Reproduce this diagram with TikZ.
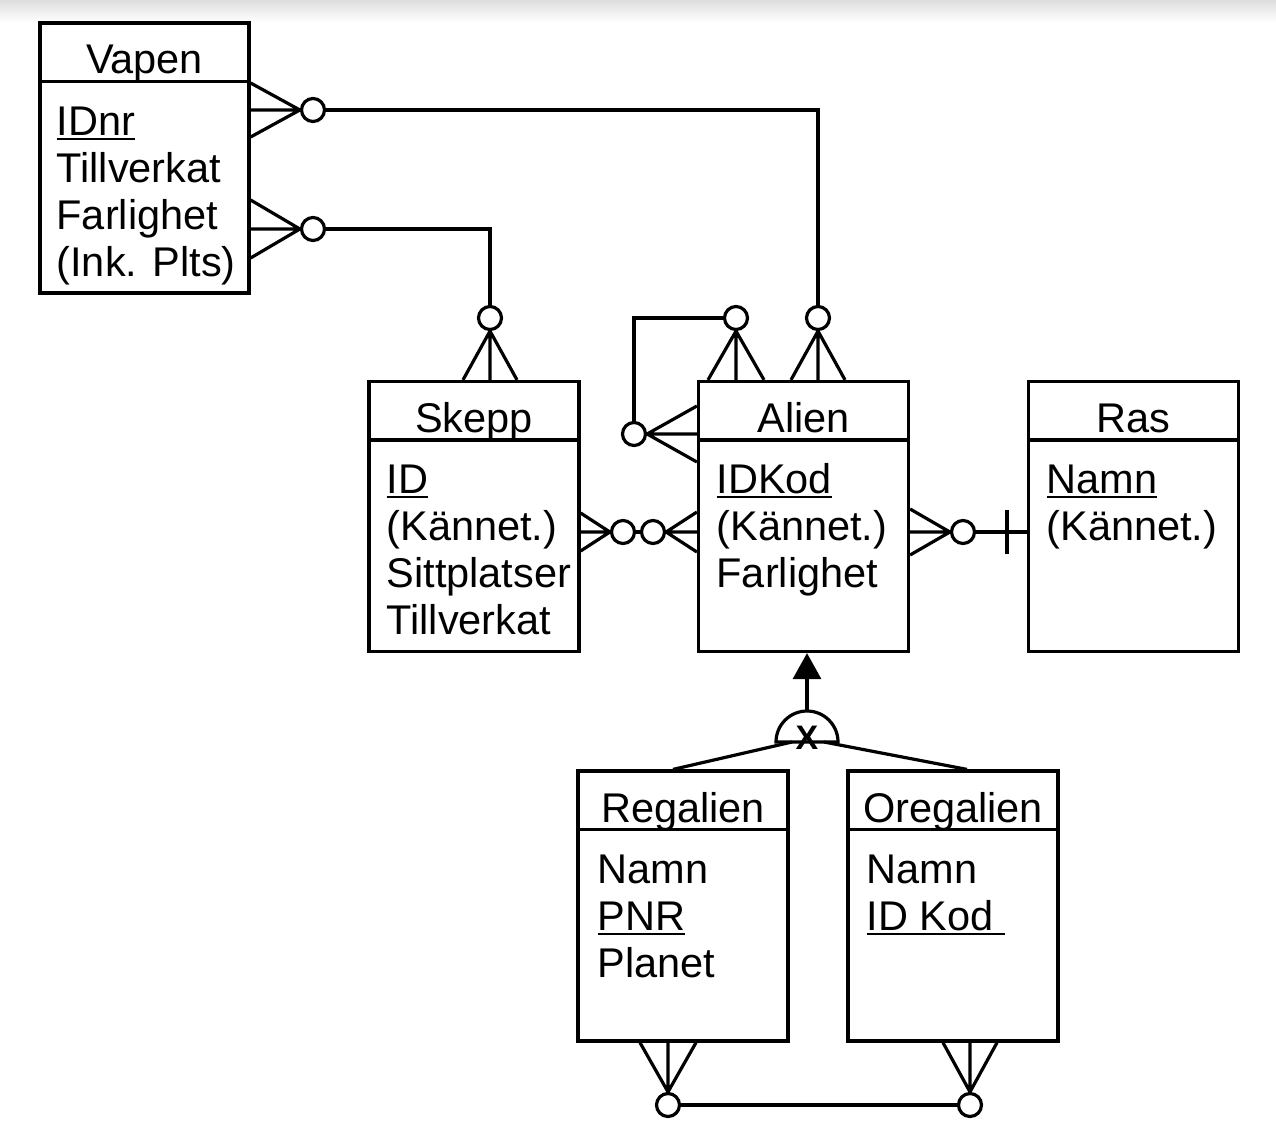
\documentclass[tikz,border=0pt]{standalone}
\usepackage{fontspec}
\setmainfont{Liberation Sans}
\usetikzlibrary{arrows.meta,calc}
\newcommand\ulx[1]{\setbox0\hbox{#1}\rlap{\rule[-5pt]{\wd0}{2.4pt}}\box0}
\newcommand\crowh[3]{\draw ($#1+(0,-#3)$) -- (#2) -- ($#1+(0,#3)$) #1 -- (#2);}
\newcommand\crowv[3]{\draw ($#1+(-#3,0)$) -- (#2) -- ($#1+(#3,0)$) #1 -- (#2);}
\begin{document}
\begin{tikzpicture}[x=1pt,y=-1pt,line width=3.2pt,
  ent/.style={draw,rectangle,minimum width=210pt,minimum height=270pt,inner sep=0},
  ttl/.style={anchor=base,inner sep=0,font=\fontsize{41.5}{47}\selectfont},
  att/.style={anchor=base west,inner sep=0,font=\fontsize{41.5}{47}\selectfont},
  oc/.style={draw,circle,fill=white,minimum size=23pt,inner sep=0}]
\useasboundingbox (0,0) rectangle (1276,1124);
\shade[top color=black!13,bottom color=white] (0,0) rectangle (1276,22);

% entities
\node[ent,minimum width=209pt] (vapen) at (144.5,158) {};
\node[ent] (skepp) at (474,516.5) {};
\node[ent] (alien) at (803.5,516.5) {};
\node[ent] (ras) at (1133.5,516.5) {};
\node[ent] (regalien) at (683,906) {};
\node[ent] (oregalien) at (953,906) {};
\foreach \b in {vapen,skepp,alien,ras,regalien,oregalien}
  \draw ($(\b.north west)+(0,60)$) -- ($(\b.north east)+(0,60)$);

% texts
\node[ttl] (tv) at (144.5,74) {Vapen};
\node[att] (v1) at (55,135) {\ulx{IDnr}};
\node[att] (v2) at (55,182) {Tillverkat};
\node[att] (v3) at (55,229) {Farlighet};
\node[att] (v4) at (55,276) {(Ink. Plts)};

\node[ttl] (ts) at (474,432) {Skepp};
\node[att] (s1) at (385,493) {\ulx{ID}};
\node[att] (s2) at (385,540) {(Kännet.)};
\node[att] (s3) at (385,587) {Sittplatser};
\node[att] (s4) at (385,634) {Tillverkat};

\node[ttl] (ta) at (803.5,432) {Alien};
\node[att] (a1) at (715,493) {\ulx{IDKod}};
\node[att] (a2) at (715,540) {(Kännet.)};
\node[att] (a3) at (715,587) {Farlighet};

\node[ttl] (tr) at (1133.5,432) {Ras};
\node[att] (r1) at (1045,493) {\ulx{Namn}};
\node[att] (r2) at (1045,540) {(Kännet.)};

\node[ttl] (tg) at (683,822) {Regalien};
\node[att] (g1) at (596,883) {Namn};
\node[att] (g2) at (596,930) {\ulx{PNR}};
\node[att] (g3) at (596,977) {Planet};

\node[ttl] (to) at (953,822) {Oregalien};
\node[att] (o1) at (865,883) {Namn};
\node[att] (o2) at (865,930) {\ulx{ID Kod\ }};

% circles
\node[oc] (c1) at (313,110) {};
\node[oc] (c2) at (818,318) {};
\node[oc] (c3) at (313,229) {};
\node[oc] (c4) at (490,318) {};
\node[oc] (c5) at (736,318) {};
\node[oc] (c6) at (634,434) {};
\node[oc] (c7) at (623,532) {};
\node[oc] (c8) at (653,532) {};
\node[oc] (c9) at (963,532) {};
\node[oc] (c10) at (668,1105) {};
\node[oc] (c11) at (970,1105) {};

% Vapen - Alien
\crowh{(vapen.east|-c1)}{c1.west}{27}
\draw (c1.east) -| (c2.north);
\crowv{(alien.north-|c2)}{c2.south}{27}
% Vapen - Skepp
\crowh{(vapen.east|-c3)}{c3.west}{29}
\draw (c3.east) -| (c4.north);
\crowv{(skepp.north-|c4)}{c4.south}{27}
% Alien self
\crowv{(alien.north-|c5)}{c5.south}{28}
\draw (c5.west) -| (c6.north);
\crowh{(alien.west|-c6)}{c6.east}{28}
% Skepp - Alien
\crowh{(skepp.east|-c7)}{c7.west}{19}
\draw (c7.east) -- (c8.west);
\crowh{(alien.west|-c8)}{c8.east}{20}
% Alien - Ras
\crowh{(alien.east|-c9)}{c9.west}{23}
\draw (c9.east) -- (ras.west|-c9);
\draw ($(ras.west|-c9)+(-20,-22)$) -- ($(ras.west|-c9)+(-20,22)$);
% Regalien - Oregalien
\crowv{(regalien.south-|c10)}{c10.north}{28}
\draw (c10.east) -- (c11.west);
\crowv{(oregalien.south-|c11)}{c11.north}{27}

% specialisation
\coordinate (isatop) at (807,711);
\draw (776,742) .. controls (776,724.9) and (789.9,711) .. (isatop)
      .. controls (824.1,711) and (838,724.9) .. (838,742) -- cycle;
\draw[-{Triangle[length=26pt,width=28pt]}] (isatop) -- (isatop|-alien.south);
\node[inner sep=0,font=\fontsize{34}{34}\selectfont\bfseries] (xm) at (807,738) {X};
\draw ($(regalien.north)+(-10,0)$) -- (792,742);
\draw ($(oregalien.north)+(14,0)$) -- (824,742);
\end{tikzpicture}
\end{document}
